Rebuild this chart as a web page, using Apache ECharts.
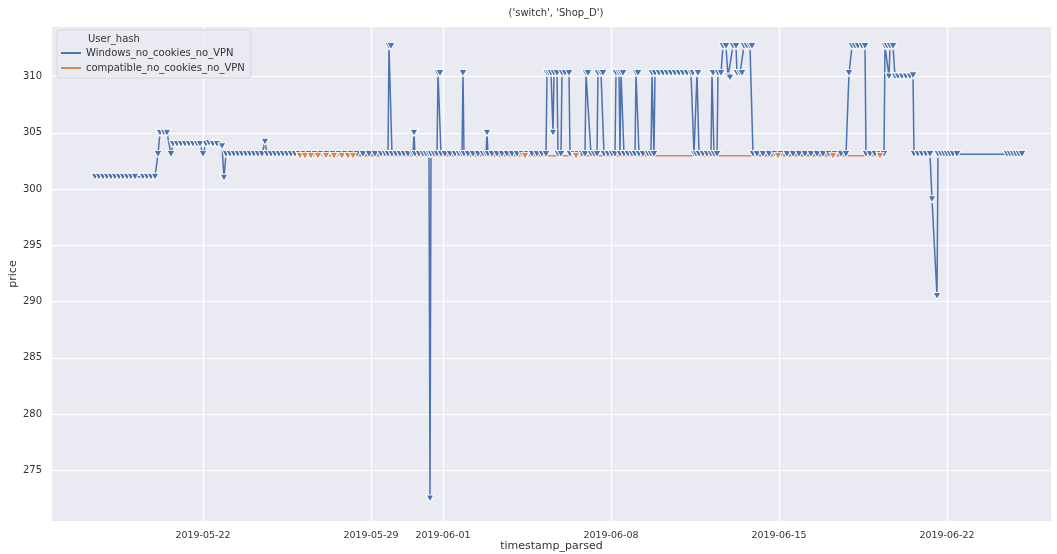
<!DOCTYPE html>
<html>
<head>
<meta charset="utf-8">
<script src="https://cdn.jsdelivr.net/npm/echarts@6/dist/echarts.min.js"></script>
<style>
  html, body { margin: 0; padding: 0; background: #fff; }
  #chart { width: 1057px; height: 554px; }
</style>
</head>
<body>
<div id="chart"></div>
<script>
const chartTitle = "('switch', 'Shop_D')"
const legendTitle = 'User_hash'
const seriesNames = ['Windows_no_cookies_no_VPN', 'compatible_no_cookies_no_VPN']

// tick positions
const xTicks = ['2019-05-22 00:00', '2019-05-29 00:00', '2019-06-01 00:00', '2019-06-08 00:00', '2019-06-15 00:00', '2019-06-22 00:00']
const yTicks = [275, 280, 285, 290, 295, 300, 305, 310]
const xRange = ['2019-05-15 17:00', '2019-06-26 08:00']
const yRange = [270.5, 314.4]

// Windows_no_cookies_no_VPN
const windowsData = [
	['2019-05-17 12:00', 301.1], ['2019-05-17 16:00', 301.1], ['2019-05-17 20:00', 301.1],
	['2019-05-18 00:00', 301.1], ['2019-05-18 04:00', 301.1], ['2019-05-18 08:00', 301.1],
	['2019-05-18 12:00', 301.1], ['2019-05-18 16:00', 301.1], ['2019-05-18 20:00', 301.1],
	['2019-05-19 00:00', 301.1], ['2019-05-19 04:00', 301.1], ['2019-05-19 12:00', 301.1],
	['2019-05-19 16:00', 301.1], ['2019-05-19 20:00', 301.1], ['2019-05-20 00:00', 301.1],
	['2019-05-20 03:00', 303.1], ['2019-05-20 05:00', 305], ['2019-05-20 09:00', 305],
	['2019-05-20 12:00', 305], ['2019-05-20 16:00', 303.1], ['2019-05-20 18:00', 304],
	['2019-05-20 22:00', 304], ['2019-05-21 02:00', 304], ['2019-05-21 06:00', 304],
	['2019-05-21 10:00', 304], ['2019-05-21 14:00', 304], ['2019-05-21 18:00', 304],
	['2019-05-21 21:00', 304], ['2019-05-22 00:00', 303.1], ['2019-05-22 03:00', 304],
	['2019-05-22 06:00', 304.1], ['2019-05-22 10:00', 304], ['2019-05-22 14:00', 304],
	['2019-05-22 19:00', 303.8], ['2019-05-22 21:00', 301], ['2019-05-22 23:00', 303.1],
	['2019-05-23 03:00', 303.1], ['2019-05-23 07:00', 303.1], ['2019-05-23 11:00', 303.1],
	['2019-05-23 15:00', 303.1], ['2019-05-23 19:00', 303.1], ['2019-05-23 23:00', 303.1],
	['2019-05-24 03:00', 303.1], ['2019-05-24 07:00', 303.1], ['2019-05-24 11:00', 303.1],
	['2019-05-24 14:00', 304.2], ['2019-05-24 16:00', 303.1], ['2019-05-24 20:00', 303.1],
	['2019-05-25 00:00', 303.1], ['2019-05-25 04:00', 303.1], ['2019-05-25 08:00', 303.1],
	['2019-05-25 12:00', 303.1], ['2019-05-25 16:00', 303.1], ['2019-05-25 20:00', 303.1],
	['2019-05-26 00:00', 303.1], ['2019-05-26 05:00', 303.1], ['2019-05-26 10:00', 303.1],
	['2019-05-26 16:00', 303.1], ['2019-05-26 22:00', 303.1], ['2019-05-27 04:00', 303.1],
	['2019-05-27 10:00', 303.1], ['2019-05-27 16:00', 303.1], ['2019-05-27 22:00', 303.1],
	['2019-05-28 04:00', 303.1], ['2019-05-28 10:00', 303.1], ['2019-05-28 16:00', 303.1],
	['2019-05-28 22:00', 303.1], ['2019-05-29 04:00', 303.1], ['2019-05-29 10:00', 303.1],
	['2019-05-29 14:00', 303.1], ['2019-05-29 17:00', 303.1], ['2019-05-29 18:00', 312.7],
	['2019-05-29 20:00', 312.7], ['2019-05-29 21:00', 303.1], ['2019-05-30 01:00', 303.1],
	['2019-05-30 05:00', 303.1], ['2019-05-30 09:00', 303.1], ['2019-05-30 13:00', 303.1],
	['2019-05-30 18:00', 303.1], ['2019-05-30 19:00', 305], ['2019-05-30 20:00', 303.1],
	['2019-05-31 00:00', 303.1], ['2019-05-31 04:00', 303.1], ['2019-05-31 07:00', 303.1],
	['2019-05-31 10:00', 303.1], ['2019-05-31 11:00', 272.5], ['2019-05-31 12:00', 303.1],
	['2019-05-31 15:00', 303.1], ['2019-05-31 18:00', 303.1], ['2019-05-31 19:00', 310.3],
	['2019-05-31 21:00', 310.3], ['2019-05-31 22:00', 303.1], ['2019-06-01 02:00', 303.1],
	['2019-06-01 07:00', 303.1], ['2019-06-01 12:00', 303.1], ['2019-06-01 16:00', 303.1],
	['2019-06-01 19:00', 303.1], ['2019-06-01 20:00', 310.3], ['2019-06-01 21:00', 303.1],
	['2019-06-02 01:00', 303.1], ['2019-06-02 06:00', 303.1], ['2019-06-02 11:00', 303.1],
	['2019-06-02 16:00', 303.1], ['2019-06-02 19:00', 303.1], ['2019-06-02 20:00', 305],
	['2019-06-02 21:00', 303.1], ['2019-06-03 01:00', 303.1], ['2019-06-03 06:00', 303.1],
	['2019-06-03 11:00', 303.1], ['2019-06-03 16:00', 303.1], ['2019-06-03 21:00', 303.1],
	['2019-06-04 02:00', 303.1], ['2019-06-04 07:00', 303.1], ['2019-06-04 12:00', 303.1],
	['2019-06-04 17:00', 303.1], ['2019-06-04 22:00', 303.1], ['2019-06-05 03:00', 303.1],
	['2019-06-05 07:00', 303.1], ['2019-06-05 08:00', 310.3], ['2019-06-05 10:00', 310.3],
	['2019-06-05 12:00', 310.3], ['2019-06-05 14:00', 305], ['2019-06-05 15:00', 310.3],
	['2019-06-05 18:00', 310.3], ['2019-06-05 19:00', 303.1], ['2019-06-05 22:00', 303.1],
	['2019-06-05 23:00', 310.3], ['2019-06-06 02:00', 310.3], ['2019-06-06 06:00', 310.3],
	['2019-06-06 07:00', 303.1], ['2019-06-06 11:00', 303.1], ['2019-06-06 15:00', 303.1],
	['2019-06-06 19:00', 303.1], ['2019-06-06 22:00', 303.1], ['2019-06-06 23:00', 310.3],
	['2019-06-07 01:00', 310.3], ['2019-06-07 04:00', 303.1], ['2019-06-07 07:00', 303.1],
	['2019-06-07 10:00', 303.1], ['2019-06-07 11:00', 310.3], ['2019-06-07 14:00', 310.3],
	['2019-06-07 16:00', 310.3], ['2019-06-07 17:00', 303.1], ['2019-06-07 21:00', 303.1],
	['2019-06-08 01:00', 303.1], ['2019-06-08 04:00', 303.1], ['2019-06-08 05:00', 310.3],
	['2019-06-08 08:00', 310.3], ['2019-06-08 09:00', 303.1], ['2019-06-08 10:00', 310.3],
	['2019-06-08 12:00', 310.3], ['2019-06-08 13:00', 303.1], ['2019-06-08 17:00', 303.1],
	['2019-06-08 21:00', 303.1], ['2019-06-09 00:00', 303.1], ['2019-06-09 01:00', 310.3],
	['2019-06-09 03:00', 310.3], ['2019-06-09 04:00', 303.1], ['2019-06-09 08:00', 303.1],
	['2019-06-09 13:00', 303.1], ['2019-06-09 16:00', 303.1], ['2019-06-09 17:00', 310.3],
	['2019-06-09 19:00', 303.1], ['2019-06-09 20:00', 310.3], ['2019-06-10 00:00', 310.3],
	['2019-06-10 04:00', 310.3], ['2019-06-10 08:00', 310.3], ['2019-06-10 12:00', 310.3],
	['2019-06-10 16:00', 310.3], ['2019-06-10 20:00', 310.3], ['2019-06-11 00:00', 310.3],
	['2019-06-11 04:00', 310.3], ['2019-06-11 08:00', 310.3], ['2019-06-11 10:00', 310.3],
	['2019-06-11 11:00', 303.1], ['2019-06-11 13:00', 303.1], ['2019-06-11 14:00', 310.3],
	['2019-06-11 15:00', 310.3], ['2019-06-11 16:00', 303.1], ['2019-06-11 20:00', 303.1],
	['2019-06-12 00:00', 303.1], ['2019-06-12 04:00', 303.1], ['2019-06-12 05:00', 310.3],
	['2019-06-12 06:00', 310.3], ['2019-06-12 07:00', 303.1], ['2019-06-12 10:00', 303.1],
	['2019-06-12 11:00', 310.3], ['2019-06-12 14:00', 310.3], ['2019-06-12 16:00', 312.7],
	['2019-06-12 19:00', 312.7], ['2019-06-12 21:00', 310.0], ['2019-06-12 23:00', 309.9],
	['2019-06-13 02:00', 312.7], ['2019-06-13 05:00', 312.7], ['2019-06-13 06:00', 310.3],
	['2019-06-13 09:00', 310.3], ['2019-06-13 11:00', 310.3], ['2019-06-13 13:00', 312.7],
	['2019-06-13 16:00', 312.7], ['2019-06-13 19:00', 312.7], ['2019-06-13 21:00', 312.7],
	['2019-06-13 22:00', 303.1], ['2019-06-14 02:00', 303.1], ['2019-06-14 08:00', 303.1],
	['2019-06-14 14:00', 303.1], ['2019-06-14 20:00', 303.1], ['2019-06-15 02:00', 303.1],
	['2019-06-15 08:00', 303.1], ['2019-06-15 14:00', 303.1], ['2019-06-15 20:00', 303.1],
	['2019-06-16 02:00', 303.1], ['2019-06-16 08:00', 303.1], ['2019-06-16 14:00', 303.1],
	['2019-06-16 20:00', 303.1], ['2019-06-17 02:00', 303.1], ['2019-06-17 08:00', 303.1],
	['2019-06-17 14:00', 303.1], ['2019-06-17 19:00', 303.1], ['2019-06-17 22:00', 310.3],
	['2019-06-18 01:00', 312.7], ['2019-06-18 04:00', 312.7], ['2019-06-18 07:00', 312.7],
	['2019-06-18 11:00', 312.7], ['2019-06-18 14:00', 312.7], ['2019-06-18 15:00', 303.1],
	['2019-06-18 19:00', 303.1], ['2019-06-19 00:00', 303.1], ['2019-06-19 05:00', 303.1],
	['2019-06-19 09:00', 303.1], ['2019-06-19 10:00', 312.7], ['2019-06-19 12:00', 312.7],
	['2019-06-19 14:00', 310.0], ['2019-06-19 15:00', 312.7], ['2019-06-19 18:00', 312.7],
	['2019-06-19 20:00', 310.0], ['2019-06-19 23:00', 310.0], ['2019-06-20 03:00', 310.0],
	['2019-06-20 07:00', 310.0], ['2019-06-20 11:00', 310.0], ['2019-06-20 14:00', 310.1],
	['2019-06-20 15:00', 303.1], ['2019-06-20 19:00', 303.1], ['2019-06-20 23:00', 303.1],
	['2019-06-21 03:00', 303.1], ['2019-06-21 07:00', 303.1], ['2019-06-21 09:00', 299.1],
	['2019-06-21 14:00', 290.5], ['2019-06-21 15:00', 303.1], ['2019-06-21 18:00', 303.1],
	['2019-06-21 21:00', 303.1], ['2019-06-22 00:00', 303.1], ['2019-06-22 03:00', 303.1],
	['2019-06-22 06:00', 303.1], ['2019-06-22 10:00', 303.1], ['2019-06-24 12:00', 303.1],
	['2019-06-24 15:00', 303.1], ['2019-06-24 18:00', 303.1], ['2019-06-24 21:00', 303.1],
	['2019-06-25 00:00', 303.1], ['2019-06-25 03:00', 303.1],
]

// compatible_no_cookies_no_VPN
const compatibleData = [
	['2019-05-26 01:00', 302.95], ['2019-05-26 06:00', 302.95], ['2019-05-26 12:00', 302.95],
	['2019-05-26 19:00', 302.95], ['2019-05-27 03:00', 302.95], ['2019-05-27 11:00', 302.95],
	['2019-05-27 19:00', 302.95], ['2019-05-28 01:00', 302.95], ['2019-05-28 06:00', 302.95],
	['2019-06-04 10:00', 302.95], ['2019-06-06 13:00', 302.95], ['2019-06-14 23:00', 302.95],
	['2019-06-17 06:00', 302.95], ['2019-06-19 05:00', 302.95],
]

const colors = ['#4c72b0', '#dd8452']
const font = 'DejaVu Sans'
const toTime = s => new Date(s.replace(' ', 'T')).getTime()

let chart = echarts.init(document.getElementById('chart'), null, { renderer: 'canvas' })

let lineSeries = (name, data, color) => ({
	name: name,
	type: 'line',
	data: data,
	color: color,
	showSymbol: true,
	symbol: 'triangle',
	symbolRotate: 180,
	symbolSize: [8, 7],
	lineStyle: { color: color, width: 1.5 },
	itemStyle: { color: color, borderColor: '#ffffff', borderWidth: 1 },
	emphasis: { disabled: true },
})

let option = {
	animation: false,
	backgroundColor: '#ffffff',
	textStyle: { fontFamily: font },
	title: {
		text: chartTitle,
		left: 551,
		top: 3,
		textAlign: 'center',
		textStyle: { fontSize: 10, fontWeight: 'normal', color: '#333', fontFamily: font },
	},
	legend: {
		orient: 'vertical',
		left: 57,
		top: 30,
		data: seriesNames.map((n, i) => ({
			name: n,
			icon: 'rect',
			itemStyle: { color: colors[i], borderWidth: 0 },
		})),
		itemWidth: 20,
		itemHeight: 2,
		itemGap: 5,
		padding: [18, 6, 5, 4],
		backgroundColor: 'rgba(234,234,242,0.85)',
		borderColor: '#d6d6de',
		borderWidth: 1,
		borderRadius: 3,
		textStyle: { fontSize: 10, color: '#333', fontFamily: font },
	},
	graphic: [
		{
			type: 'text',
			left: 88,
			top: 34,
			z: 100,
			style: { text: legendTitle, fontSize: 10, fill: '#333', fontFamily: font },
		},
	],
	grid: {
		left: 52,
		right: 6,
		top: 27,
		bottom: 33,
		outerBoundsMode: 'none',
		containLabel: false,
		show: true,
		backgroundColor: '#eaeaf2',
		borderWidth: 0,
	},
	xAxis: {
		type: 'time',
		min: toTime(xRange[0]),
		max: toTime(xRange[1]),
		name: 'timestamp_parsed',
		nameLocation: 'middle',
		nameMoveOverlap: false,
		nameGap: 20,
		nameTextStyle: { fontSize: 11, color: '#333', fontFamily: font },
		axisLine: { show: false },
		axisTick: { show: false, customValues: xTicks.map(toTime) },
		axisLabel: {
			customValues: xTicks.map(toTime),
			formatter: '{yyyy}-{MM}-{dd}',
			fontSize: 9.5,
			color: '#333',
			margin: 10,
			fontFamily: font,
		},
		splitLine: { show: true, lineStyle: { color: '#ffffff', width: 1.2 } },
	},
	yAxis: {
		type: 'value',
		min: yRange[0],
		max: yRange[1],
		name: 'price',
		nameLocation: 'middle',
		nameMoveOverlap: false,
		nameGap: 33,
		nameTextStyle: { fontSize: 11, color: '#333', fontFamily: font },
		axisLine: { show: false },
		axisTick: { show: false, customValues: yTicks },
		axisLabel: { customValues: yTicks, fontSize: 10, color: '#333', margin: 10, fontFamily: font },
		splitLine: { show: true, lineStyle: { color: '#ffffff', width: 1.2 } },
	},
	series: [
		lineSeries(seriesNames[0], windowsData, colors[0]),
		lineSeries(seriesNames[1], compatibleData, colors[1]),
	],
}
chart.setOption(option)
</script>
</body>
</html>
